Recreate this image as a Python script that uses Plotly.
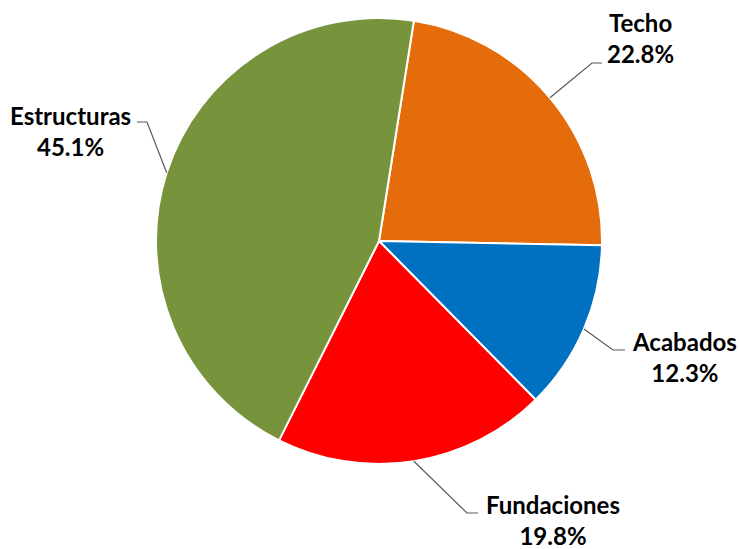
import math
import plotly.graph_objects as go

labels = ["Techo", "Acabados", "Fundaciones", "Estructuras"]
values = [22.8, 12.3, 19.8, 45.1]
colors = ["#E46C0A", "#0070C0", "#FF0000", "#77933C"]

W, H = 739, 549
L, R, T, B = 100, 81, 18, 85
PW, PH = W - L - R, H - T - B
ROT = 9
CX, CY = L + PW / 2, T + PH / 2
RAD = min(PW, PH) / 2

def px(x):
    return (x - L) / PW

def py(y):
    return 1 - (y - T) / PH

# label layout: elbow point, horizontal end, text center (pixels)
elbows = [(592, 63, 602), (613, 350, 625), (467, 513, 478), (147, 122, 137)]
text_pos = [(640, 38), (684, 357), (553, 520), (70, 131)]

fig = go.Figure(go.Pie(
    labels=labels, values=values, sort=False, direction="clockwise",
    rotation=ROT, textinfo="none", hoverinfo="label+percent",
    marker=dict(colors=colors, line=dict(color="white", width=2)),
    showlegend=False,
))

total = sum(values)
cum = 0
shapes, annotations = [], []
for i, (lab, v) in enumerate(zip(labels, values)):
    mid = math.radians(ROT + 360 * (cum + v / 2) / total)
    cum += v
    sx = CX + RAD * math.sin(mid)
    sy = CY - RAD * math.cos(mid)
    ex, ey, hx = elbows[i]
    path = f"M {px(sx)},{py(sy)} L {px(ex)},{py(ey)} L {px(hx)},{py(ey)}"
    shapes.append(dict(type="path", xref="paper", yref="paper", path=path,
                       line=dict(color="#595959", width=1.2)))
    tx, ty = text_pos[i]
    annotations.append(dict(
        xref="paper", yref="paper", x=px(tx), y=py(ty), xanchor="center", yanchor="middle",
        text=f"<b>{lab}</b><br><b>{v/total*100:.1f}%</b>", showarrow=False,
        font=dict(family="Lato", size=24, color="#000000"), align="center"))

fig.update_layout(
    width=W, height=H, margin=dict(l=L, r=R, t=T, b=B),
    paper_bgcolor="white", plot_bgcolor="white",
    shapes=shapes, annotations=annotations,
)
fig.write_html("out.html", config={"displayModeBar": False},
               post_script="document.body.style.margin='0';document.body.style.padding='0';")
